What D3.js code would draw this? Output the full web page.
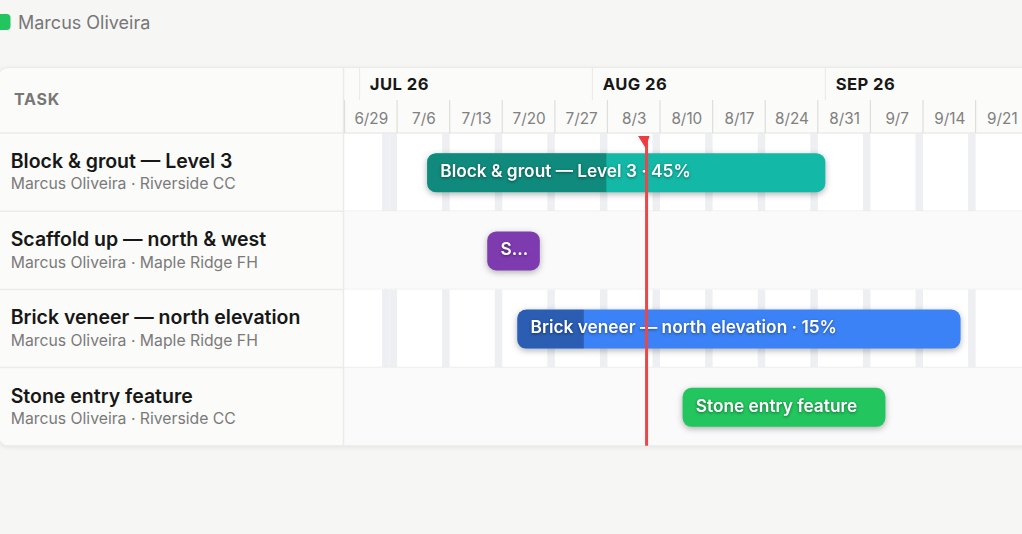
<!DOCTYPE html>
<html>
<head>
<meta charset="utf-8">
<script src="https://cdn.jsdelivr.net/npm/d3@7"></script>
<style>
  html, body { margin: 0; padding: 0; background: #f6f6f5; overflow: hidden; }
  svg { display: block; font-family: Inter, "Noto Sans", sans-serif; }
  .bar { filter: drop-shadow(0 2px 3px rgba(0,0,0,.3)); }
  .bar-label { text-shadow: 0 1px 3px rgba(0,0,0,.45); }
  .card-bg { filter: drop-shadow(0 1px 2px rgba(0,0,0,.07)); }
</style>
</head>
<body>
<svg id="chart" width="1022" height="534"></svg>
<script>
const legendName = "Marcus Oliveira";
const legendColor = "#22c55e";

const taskNames = ["Block & grout — Level 3", "Scaffold up — north & west", "Brick veneer — north elevation", "Stone entry feature"];
const taskMeta = ["Marcus Oliveira · Riverside CC", "Marcus Oliveira · Maple Ridge FH", "Marcus Oliveira · Maple Ridge FH", "Marcus Oliveira · Riverside CC"];
const taskStarts = ["2026-07-10", "2026-07-18", "2026-07-22", "2026-08-13"];
const taskEnds = ["2026-09-01", "2026-07-25", "2026-09-19", "2026-09-09"];
const taskProgress = [45, 0, 15, 0];
const barLabels = ["Block & grout — Level 3 · 45%", "S...", "Brick veneer — north elevation · 15%", "Stone entry feature"];
const barColors = ["#14b8a6", "#7e3bb0", "#3b82f6", "#22c55e"];
const progressColors = ["#0f8a7c", "", "#2b5db3", ""];

const monthStarts = ["2026-07-01", "2026-08-01", "2026-09-01"];
const monthLabels = ["JUL 26", "AUG 26", "SEP 26"];
const weekStarts = ["2026-06-29", "2026-07-06", "2026-07-13", "2026-07-20", "2026-07-27", "2026-08-03", "2026-08-10", "2026-08-17", "2026-08-24", "2026-08-31", "2026-09-07", "2026-09-14", "2026-09-21"];
const weekLabels = ["6/29", "7/6", "7/13", "7/20", "7/27", "8/3", "8/10", "8/17", "8/24", "8/31", "9/7", "9/14", "9/21"];
const offDays = ["2026-07-04", "2026-07-05", "2026-07-12", "2026-07-19", "2026-07-26", "2026-08-02", "2026-08-09", "2026-08-16", "2026-08-23", "2026-08-30", "2026-09-06", "2026-09-13", "2026-09-20"];
const todayDate = "2026-08-08T05:00";

const parse = s => new Date(s.length > 10 ? s : s + "T00:00");

const panelW = 344, headTop = 67.5, headBottom = 133, rowH = 78.2, tableBottom = 445.8;

const x = d3.scaleTime()
  .domain([parse("2026-06-29"), parse("2026-10-01")])
  .range([344.5, 344.5 + 94 * 7.513]);
const y = d3.scaleBand().domain(d3.range(taskNames.length)).range([133, 133 + 4 * rowH]);

const svg = d3.select("#chart");
const line = "#ebebe8";

// legend
svg.append("rect").attr("x", -9).attr("y", 14).attr("width", 19.5).attr("height", 16).attr("rx", 4).attr("fill", legendColor);
svg.append("text").attr("x", 18).attr("y", 28.5).attr("font-size", 18).attr("fill", "#777777").text(legendName);

// table card
svg.append("rect").attr("class", "card-bg").attr("x", -2).attr("y", headTop).attr("width", 1100).attr("height", tableBottom - headTop)
  .attr("rx", 10).attr("fill", "#fbfbf9").attr("stroke", line).attr("stroke-width", 1.2);

const clip = svg.append("defs").append("clipPath").attr("id", "card");
clip.append("rect").attr("x", -2).attr("y", headTop).attr("width", 1100).attr("height", tableBottom - headTop).attr("rx", 10);
const card = svg.append("g").attr("clip-path", "url(#card)");

// timeline row backgrounds and non working days
const rows = card.selectAll("g.row").data(taskNames).join("g").attr("class", "row");
rows.append("rect").attr("x", panelW).attr("y", (d, i) => y(i)).attr("width", 700).attr("height", rowH)
  .attr("fill", (d, i) => i % 2 ? "#fafafa" : "#ffffff");
rows.filter((d, i) => i % 2 === 0).selectAll("rect.off").data(offDays).join("rect").attr("class", "off")
  .attr("x", d => x(parse(d)))
  .attr("width", d => x(d3.timeDay.offset(parse(d), 1)) - x(parse(d)))
  .attr("y", function () { return +this.parentNode.firstChild.getAttribute("y"); })
  .attr("height", rowH)
  .attr("fill", "#eeeff3");
rows.append("line").attr("x1", -6).attr("x2", 1022).attr("y1", (d, i) => y(i) + rowH).attr("y2", (d, i) => y(i) + rowH)
  .attr("stroke", line).attr("stroke-width", 1.5);

card.append("line").attr("x1", 0).attr("x2", 1022).attr("y1", headBottom).attr("y2", headBottom).attr("stroke", line).attr("stroke-width", 1.5);
card.append("line").attr("x1", panelW - 0.5).attr("x2", panelW - 0.5).attr("y1", headTop).attr("y2", tableBottom).attr("stroke", line).attr("stroke-width", 1.5);

// task column
svg.append("text").attr("x", 14).attr("y", 105).attr("font-size", 16).attr("font-weight", 700)
  .attr("letter-spacing", 0.8).attr("fill", "#777777").text("TASK");
rows.append("text").attr("x", 10.7).attr("y", (d, i) => y(i) + 35).attr("font-size", 19.5).attr("font-weight", 600).attr("fill", "#171717").text(d => d);
rows.append("text").attr("x", 10.7).attr("y", (d, i) => y(i) + 56.3).attr("font-size", 15.75).attr("fill", "#7a7a7a").text((d, i) => taskMeta[i]);

// month header
const months = card.append("g").selectAll("g").data(monthStarts).join("g");
months.append("line").attr("x1", d => x(parse(d))).attr("x2", d => x(parse(d))).attr("y1", headTop).attr("y2", 100)
  .attr("stroke", line).attr("stroke-width", 1.2);
months.append("text").attr("x", d => x(parse(d)) + 10.3).attr("y", 90).attr("font-size", 16.6).attr("font-weight", 700)
  .attr("letter-spacing", 0.45).attr("fill", "#171717").text((d, i) => monthLabels[i]);

// week header
const weeks = card.append("g").selectAll("g").data(weekStarts).join("g");
weeks.append("line").attr("x1", d => x(parse(d))).attr("x2", d => x(parse(d))).attr("y1", 100).attr("y2", headBottom)
  .attr("stroke", "#dededb").attr("stroke-width", 1.2);
weeks.append("text").attr("x", d => x(d3.timeHour.offset(parse(d), 84)) + 0.5).attr("y", 124).attr("text-anchor", "middle")
  .attr("font-size", 15.3).attr("fill", "#808080").text((d, i) => weekLabels[i]);

// bars
const barH = 39;
const barX = i => x(parse(taskStarts[i]));
const barW = i => x(parse(taskEnds[i])) - x(parse(taskStarts[i]));
const bars = svg.append("g").selectAll("g").data(taskNames).join("g").attr("class", "bar");
const barClip = svg.select("defs").selectAll("clipPath.b").data(taskNames).join("clipPath").attr("class", "b").attr("id", (d, i) => "bar" + i);
barClip.append("rect").attr("x", (d, i) => barX(i)).attr("y", (d, i) => y(i) + 20.2)
  .attr("width", (d, i) => barW(i)).attr("height", barH).attr("rx", 9);
bars.append("rect").attr("x", (d, i) => barX(i)).attr("y", (d, i) => y(i) + 20.2)
  .attr("width", (d, i) => barW(i)).attr("height", barH).attr("rx", 9)
  .attr("fill", (d, i) => barColors[i]);
bars.append("rect").attr("clip-path", (d, i) => `url(#bar${i})`)
  .attr("x", (d, i) => barX(i)).attr("y", (d, i) => y(i) + 20.2)
  .attr("width", (d, i) => barW(i) * taskProgress[i] / 100).attr("height", barH)
  .attr("fill", (d, i) => progressColors[i] || "none");
bars.append("text").attr("class", "bar-label")
  .attr("x", (d, i) => barX(i) + 13.2).attr("y", (d, i) => y(i) + 44)
  .attr("font-size", 17.3).attr("font-weight", 600).attr("fill", "#ffffff").text((d, i) => barLabels[i]);

// today marker
const todayX = x(parse(todayDate));
svg.append("line").attr("x1", todayX).attr("x2", todayX).attr("y1", 136).attr("y2", tableBottom)
  .attr("stroke", "#e8474c").attr("stroke-width", 3);
svg.append("path").attr("d", d3.line()([[todayX - 8.5, 136], [todayX + 3, 136], [todayX - 1, 148]])).attr("fill", "#ef3b3f");
</script>
</body>
</html>
